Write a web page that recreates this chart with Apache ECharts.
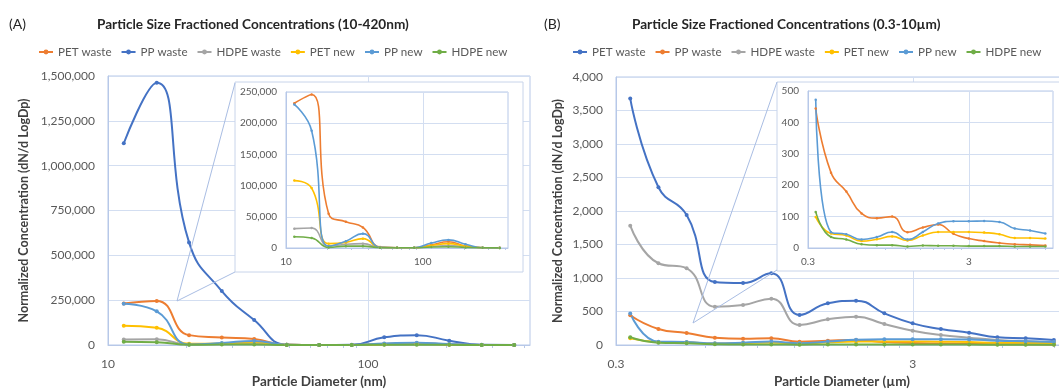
<!DOCTYPE html>
<html><head><meta charset="utf-8">
<script src="https://cdn.jsdelivr.net/npm/echarts@6/dist/echarts.min.js"></script>
<style>html,body{margin:0;padding:0;background:#fff}#c{width:1059px;height:392px}</style>
</head><body><div id="c"></div>
<script>
// ---------- DATA ----------
// Panel A: NanoScan channels (nm)
const diamA = [11.5, 15.4, 20.5, 27.4, 36.5, 48.7, 64.9, 86.6, 115.5, 154.0, 205.4, 273.8, 365.2];
const A_PET_waste  = [232000, 246000, 55000, 42000, 33000, 1500, 500, 500, 5000, 10000, 3000, 500, 300];
const A_PP_waste   = [1125000, 1462000, 572000, 301000, 139000, 2000, 500, 1000, 43000, 55000, 24000, 1000, 500];
const A_HDPE_waste = [31000, 32000, 3000, 6000, 7000, 1000, 500, 500, 2500, 4000, 2000, 500, 300];
const A_PET_new    = [108000, 96000, 7000, 9000, 15000, 1000, 500, 500, 4000, 7000, 3000, 500, 200];
const A_PP_new     = [230000, 188000, 3000, 11000, 23000, 1000, 500, 500, 8000, 13000, 6000, 500, 200];
const A_HDPE_new   = [18000, 16000, 1000, 3000, 3000, 500, 300, 300, 1500, 2000, 1000, 300, 200];

// Panel B: OPS channels (um)
const diamB = [0.335, 0.417, 0.519, 0.646, 0.804, 1.001, 1.246, 1.552, 1.932, 2.406, 2.996, 3.730, 4.644, 5.782, 7.199, 8.962];
const B_PET_waste  = [3680, 2354, 1941, 940, 925, 1070, 448, 622, 662, 473, 323, 239, 184, 115, 100, 75];
const B_PP_waste   = [444, 240, 180, 110, 95, 100, 50, 65, 75, 45, 30, 22, 16, 12, 10, 8];
const B_HDPE_waste = [1781, 1220, 1145, 572, 597, 692, 299, 383, 423, 313, 214, 149, 110, 75, 55, 45];
const B_PET_new    = [99, 46, 40, 22, 28, 37, 24, 40, 51, 51, 51, 49, 44, 32, 32, 30];
const B_PP_new     = [472, 50, 44, 27, 35, 51, 27, 51, 78, 85, 85, 86, 83, 62, 56, 46];
const B_HDPE_new   = [115, 35, 27, 12, 9, 9, 5, 8, 7, 7, 6, 6, 6, 5, 5, 5];

const namesA = ['PET waste', 'PP waste', 'HDPE waste', 'PET new', 'PP new', 'HDPE new'];
const namesB = ['PET waste', 'PP waste', 'HDPE waste', 'PET new', 'PP new', 'HDPE new'];

const ticksA = [10, 100];
const minorA = [20, 30, 40, 50, 60, 70, 80, 90, 200, 300, 400];
const ticksB = [0.3, 3];
const minorB = [0.6, 0.9, 1.2, 1.5, 1.8, 2.1, 2.4, 2.7, 6, 9];

// ---------- STYLE ----------
const FONT = 'Lato, "Noto Sans", sans-serif';
const GRIDC = '#D3DEF1';
const BORDER = '#B7C8E8';
const LAB = '#595959';
const DARK = '#262626';
const C = {orange: '#ED7D31', blue: '#4472C4', gray: '#A5A5A5', yellow: '#FFC000', lblue: '#5B9BD5', green: '#70AD47'};
const colorsA = [C.orange, C.blue, C.gray, C.yellow, C.lblue, C.green];
const colorsB = [C.blue, C.orange, C.gray, C.yellow, C.lblue, C.green];

const dataA = [A_PET_waste, A_PP_waste, A_HDPE_waste, A_PET_new, A_PP_new, A_HDPE_new];
const dataB = [B_PET_waste, B_PP_waste, B_HDPE_waste, B_PET_new, B_PP_new, B_HDPE_new];

const pair = (xs, ys) => xs.map((x, i) => [x, ys[i]]);

function line(name, xs, ys, color, xi, yi, inset) {
  return {
    type: 'line', name, xAxisIndex: xi, yAxisIndex: yi,
    data: pair(xs, ys), smooth: 0.5,
    symbol: 'circle', symbolSize: inset ? 2.5 : 4, showSymbol: true,
    lineStyle: {color, width: inset ? 1.6 : 2},
    itemStyle: {color},
    z: inset ? 12 : 2,
    animation: false, emphasis: {disabled: true}
  };
}

const series = [];
namesA.forEach((n, i) => series.push(line(n, diamA, dataA[i], colorsA[i], 0, 0, false)));
namesB.forEach((n, i) => series.push(line(n + ' (B)', diamB, dataB[i], colorsB[i], 4, 2, false)));
namesA.forEach((n, i) => { if (i !== 1) series.push(line(n, diamA, dataA[i], colorsA[i], 2, 1, true)); });
namesB.forEach((n, i) => { if (i !== 0 && i !== 2) series.push(line(n + ' (B)', diamB, dataB[i], colorsB[i], 6, 3, true)); });

const fmt = v => String(+(+v).toPrecision(3));

function xMain(grid, min, max, ticks, name, z) {
  return {
    type: 'log', logBase: 10, gridIndex: grid, min, max, position: 'bottom', z,
    name, nameLocation: 'middle', nameGap: 30,
    nameTextStyle: {fontFamily: FONT, fontSize: 13.5, fontWeight: 'bold', color: '#404040'},
    axisLine: {show: true, lineStyle: {color: BORDER, width: 1}},
    axisTick: {show: false, customValues: ticks},
    axisLabel: {customValues: ticks, formatter: fmt, color: LAB, fontFamily: FONT, fontSize: 12, margin: 13},
    splitLine: {show: true, lineStyle: {color: GRIDC, width: 1}},
    minorTick: {show: false}, minorSplitLine: {show: false}
  };
}
function xInset(grid, min, max, ticks, z) {
  return {
    type: 'log', logBase: 10, gridIndex: grid, min, max, position: 'bottom', z,
    axisLine: {show: true, lineStyle: {color: BORDER, width: 1}},
    axisTick: {show: false, customValues: ticks},
    axisLabel: {customValues: ticks, formatter: fmt, color: LAB, fontFamily: FONT, fontSize: 10, margin: 9},
    splitLine: {show: true, lineStyle: {color: GRIDC, width: 1}}
  };
}
function xMinor(grid, min, max, ticks, z, len) {
  return {
    type: 'log', logBase: 10, gridIndex: grid, min, max, position: 'bottom', offset: 0, z,
    axisLine: {show: false},
    axisTick: {show: true, customValues: ticks, length: len, inside: false, lineStyle: {color: BORDER}},
    axisLabel: {show: false}, splitLine: {show: false}
  };
}
function yAx(grid, max, interval, fs, margin, name, nameGap, z) {
  const o = {
    type: 'value', gridIndex: grid, min: 0, max, interval, z,
    axisLine: {show: true, lineStyle: {color: BORDER, width: 1}},
    axisTick: {show: false},
    axisLabel: {color: LAB, fontFamily: FONT, fontSize: fs, margin},
    splitLine: {show: true, lineStyle: {color: GRIDC, width: 1}}
  };
  if (name) {
    o.name = name; o.nameLocation = 'middle'; o.nameGap = nameGap;
    o.nameTextStyle = {fontFamily: FONT, fontSize: 12.5, fontWeight: 'bold', color: '#404040'};
  }
  return o;
}

const gridBase = {show: true, borderColor: BORDER, borderWidth: 1, backgroundColor: 'transparent', containLabel: false, outerBoundsMode: 'none'};

const option = {
  animation: false,
  backgroundColor: '#fff',
  textStyle: {fontFamily: FONT},
  title: [
    {text: '(A)', left: 9, top: 17, padding: 0, textStyle: {fontFamily: FONT, fontSize: 14, fontWeight: 'normal', color: DARK}},
    {text: 'Particle Size Fractioned Concentrations (10-420nm)', left: 97, top: 18, padding: 0, textStyle: {fontFamily: FONT, fontSize: 13.6, fontWeight: 'bold', color: DARK}},
    {text: '(B)', left: 544, top: 17, padding: 0, textStyle: {fontFamily: FONT, fontSize: 14, fontWeight: 'normal', color: DARK}},
    {text: 'Particle Size Fractioned Concentrations (0.3-10\u00b5m)', left: 632, top: 18, padding: 0, textStyle: {fontFamily: FONT, fontSize: 13.6, fontWeight: 'bold', color: DARK}}
  ],
  legend: [
    {data: namesA, left: 38, top: 46, padding: 0, itemGap: 9, itemWidth: 14, itemHeight: 6,
     textStyle: {fontFamily: FONT, fontSize: 11.6, color: LAB}},
    {data: namesB.map(n => n + ' (B)'), left: 572, top: 46, padding: 0, itemGap: 9, itemWidth: 14, itemHeight: 6,
     formatter: n => n.replace(' (B)', ''),
     textStyle: {fontFamily: FONT, fontSize: 11.6, color: LAB}}
  ],
  grid: [
    Object.assign({}, gridBase, {left: 108, right: 529, top: 76, bottom: 47, z: 0}),
    Object.assign({}, gridBase, {left: 286, right: 551, top: 92, bottom: 144, z: 6}),
    Object.assign({}, gridBase, {left: 616, right: -9, top: 77, bottom: 47, z: 0}),
    Object.assign({}, gridBase, {left: 808, right: 6, top: 91, bottom: 144, z: 6})
  ],
  xAxis: [
    xMain(0, 10, 420, ticksA, 'Particle Diameter (nm)', 0),
    xMinor(0, 10, 420, minorA, 0, 3),
    xInset(1, 10, 420, ticksA, 10),
    xMinor(1, 10, 420, minorA, 10, 2),
    xMain(2, 0.3, 10, ticksB, 'Particle Diameter (\u00b5m)', 0),
    xMinor(2, 0.3, 10, minorB, 0, 3),
    xInset(3, 0.3, 10, ticksB, 10),
    xMinor(3, 0.3, 10, minorB, 10, 2)
  ],
  yAxis: [
    yAx(0, 1500000, 250000, 12, 13, 'Normalized Concentration (dN/d LogDp)', 78, 0),
    yAx(1, 250000, 50000, 10, 9, null, 0, 10),
    yAx(2, 4000, 500, 12, 13, 'Normalized Concentration (dN/d LogDp)', 52, 0),
    yAx(3, 500, 100, 10, 9, null, 0, 10)
  ],
  graphic: {elements: [
    {type: 'rect', shape: {x: 235, y: 82, width: 288, height: 190}, style: {fill: '#fff', stroke: '#C8D4EA', lineWidth: 1}, z: 5},
    {type: 'polyline', shape: {points: [[235, 83], [177, 301], [235, 272]]}, style: {fill: null, stroke: '#A9BDE3', lineWidth: 1}, z: 5},
    {type: 'rect', shape: {x: 777, y: 82, width: 300, height: 189}, style: {fill: '#fff', stroke: '#C8D4EA', lineWidth: 1}, z: 5},
    {type: 'polyline', shape: {points: [[777, 82], [693, 323], [777, 270]]}, style: {fill: null, stroke: '#A9BDE3', lineWidth: 1}, z: 5}
  ]},
  series
};

const chart = echarts.init(document.getElementById('c'), null, {renderer: 'canvas'});
chart.setOption(option);
</script>
</body></html>
